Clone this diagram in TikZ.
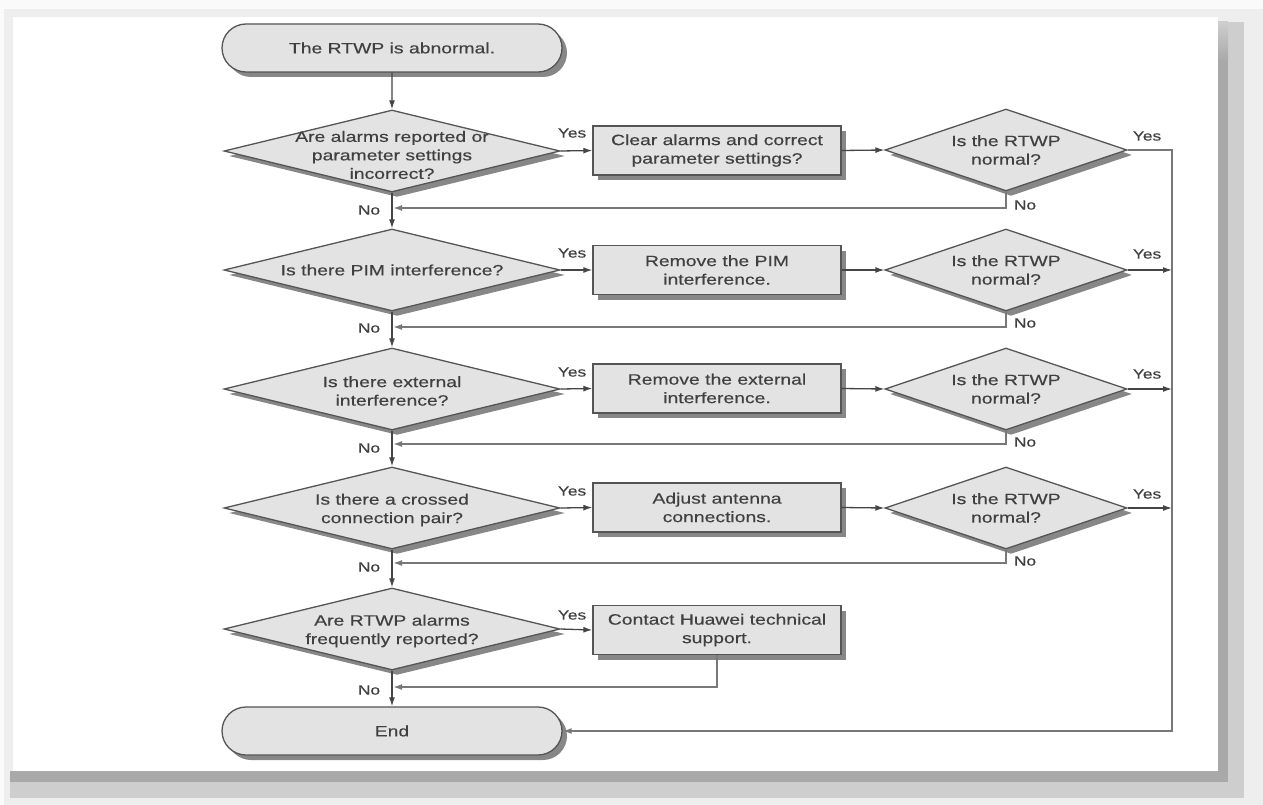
\documentclass[tikz,border=0pt]{standalone}
\usepackage{fontspec}
\setmainfont[FakeStretch=1.29,FakeBold=0.4]{Liberation Sans}
\usetikzlibrary{shapes.geometric,shapes.misc,shadows,arrows.meta}
\definecolor{fillc}{HTML}{E3E3E3}
\definecolor{edgec}{HTML}{555555}
\definecolor{txtc}{HTML}{404040}
\definecolor{connc}{HTML}{454545}
\definecolor{retc}{HTML}{787878}
\definecolor{outerbg}{HTML}{FAFAFA}
\definecolor{band1}{HTML}{EEEEEE}
\definecolor{band2}{HTML}{CECECE}
\definecolor{band3}{HTML}{A9A9A9}
\tikzset{
  shp/.style={draw=edgec, line width=1.3pt, fill=fillc, text=txtc,
    font=\fontsize{15}{18.5}\selectfont, align=center, inner sep=0pt,
    drop shadow={shadow xshift=5pt, shadow yshift=-5pt, fill=black!55, opacity=.85}},
  term/.style={shp, rounded rectangle, minimum width=340pt, minimum height=48pt},
  stepbox/.style={shp, rectangle, minimum width=248pt, minimum height=49pt},
  bigdia/.style={shp, diamond, minimum width=336pt, minimum height=82pt},
  smalldia/.style={shp, diamond, minimum width=242pt, minimum height=82pt},
  dtext/.style={text=txtc, font=\fontsize{15}{18.5}\selectfont, align=center, inner sep=0pt},
  lbl/.style={text=txtc, font=\fontsize{13.5}{16}\selectfont, inner sep=0pt},
  arr/.style={draw=connc, line width=1.3pt, -{Latex[length=9pt,width=6pt]}},
  ret/.style={draw=retc, line width=1.7pt, -{Latex[length=9pt,width=6pt]}},
}
\begin{document}
\begin{tikzpicture}[x=1pt,y=-1pt]
\useasboundingbox (0,0) rectangle (1263,805);
% background and panel
\fill[outerbg] (0,0) rectangle (1263,805);
\fill[band1] (4,9) rectangle (1263,805);
\fill[band2] (1218,22) rectangle (1244,798);
\fill[band2] (10,771) rectangle (1244,798);
\shade[top color=band2, bottom color=band3] (1218,22) rectangle (1228,60);
\fill[band3] (1218,60) rectangle (1228,782);
\fill[band3] (10,771) rectangle (1228,782);
\fill[white] (13,17) rectangle (1218,771);

% nodes
\node[term] (start) at (392,48) {The RTWP is abnormal.};

\node[bigdia] (d1) at (392,151) {};
\node[dtext] (t1) at ([yshift=-4pt]d1.center) {Are alarms reported or\\parameter settings\\incorrect?};
\node[stepbox] (b1) at (717,150.5) {Clear alarms and correct\\parameter settings?};
\node[smalldia] (r1) at (1006,150) {};
\node[dtext] (u1) at (r1.center) {Is the RTWP\\normal?};

\node[bigdia] (d2) at (392,270) {};
\node[dtext] (t2) at (d2.center) {Is there PIM interference?};
\node[stepbox] (b2) at (717,270) {Remove the PIM\\interference.};
\node[smalldia] (r2) at (1006,270) {};
\node[dtext] (u2) at (r2.center) {Is the RTWP\\normal?};

\node[bigdia] (d3) at (392,389) {};
\node[dtext] (t3) at ([yshift=-2pt]d3.center) {Is there external\\interference?};
\node[stepbox] (b3) at (717,388.5) {Remove the external\\interference.};
\node[smalldia] (r3) at (1006,389) {};
\node[dtext] (u3) at (r3.center) {Is the RTWP\\normal?};

\node[bigdia] (d4) at (392,508) {};
\node[dtext] (t4) at ([yshift=-2pt]d4.center) {Is there a crossed\\connection pair?};
\node[stepbox] (b4) at (717,507.5) {Adjust antenna\\connections.};
\node[smalldia] (r4) at (1006,508) {};
\node[dtext] (u4) at (r4.center) {Is the RTWP\\normal?};

\node[bigdia] (d5) at (392,629) {};
\node[dtext] (t5) at ([yshift=-2pt]d5.center) {Are RTWP alarms\\frequently reported?};
\node[stepbox] (b5) at (717,630) {Contact Huawei technical\\support.};

\node[term] (end) at (392,731) {End};

% coordinates
\coordinate (n1) at (393,208);
\coordinate (n2) at (393,327);
\coordinate (n3) at (393,444);
\coordinate (n4) at (393,563);
\coordinate (n5) at (393,687);
\coordinate (m1) at (1172,150);
\coordinate (m9) at (1172,731);

% main column
\draw[arr] (start) -- (d1);
\draw[arr] (d1) -- (d2);
\draw[arr] (d2) -- (d3);
\draw[arr] (d3) -- (d4);
\draw[arr] (d4) -- (d5);
\draw[arr] (d5) -- (end);

% yes branches
\draw[arr] (d1.east) -- (b1.west);
\draw[arr] (b1.east) -- (r1.west);
\draw[arr] (d2.east) -- (b2.west);
\draw[arr] (b2.east) -- (r2.west);
\draw[arr] (d3.east) -- (b3.west);
\draw[arr] (b3.east) -- (r3.west);
\draw[arr] (d4.east) -- (b4.west);
\draw[arr] (b4.east) -- (r4.west);
\draw[arr] (d5.east) -- (b5.west);

% no returns
\draw[ret] (r1.south) |- (n1);
\draw[ret] (r2.south) |- (n2);
\draw[ret] (r3.south) |- (n3);
\draw[ret] (r4.south) |- (n4);
\draw[ret] (b5.south) |- (n5);

% right merge
\draw[ret] (r1.east) -- (m1) -- (m9) -- (end.east);
\draw[arr] (r2.east) -- (r2.east -| m1);
\draw[arr] (r3.east) -- (r3.east -| m1);
\draw[arr] (r4.east) -- (r4.east -| m1);

% labels
\node[lbl] (y1) at (572,133) {Yes};
\node[lbl] (y2) at (572,253) {Yes};
\node[lbl] (y3) at (572,372) {Yes};
\node[lbl] (y4) at (572,491) {Yes};
\node[lbl] (y5) at (572,615) {Yes};
\node[lbl] (o1) at (369,210) {No};
\node[lbl] (o2) at (369,328) {No};
\node[lbl] (o3) at (369,448) {No};
\node[lbl] (o4) at (369,567) {No};
\node[lbl] (o5) at (369,690) {No};
\node[lbl] (z1) at (1147,136) {Yes};
\node[lbl] (z2) at (1147,254) {Yes};
\node[lbl] (z3) at (1147,374) {Yes};
\node[lbl] (z4) at (1147,494) {Yes};
\node[lbl] (w1) at (1025,205) {No};
\node[lbl] (w2) at (1025,323) {No};
\node[lbl] (w3) at (1025,442) {No};
\node[lbl] (w4) at (1025,561) {No};
\end{tikzpicture}
\end{document}
